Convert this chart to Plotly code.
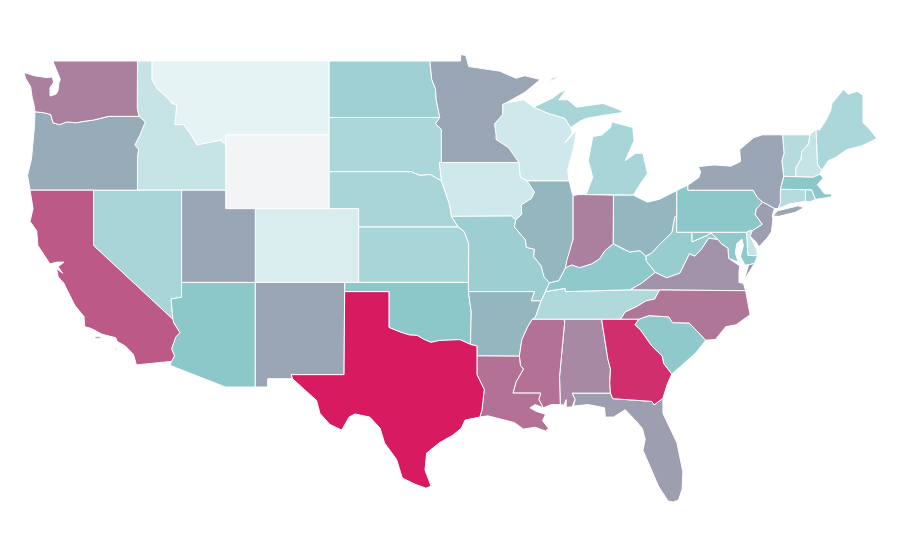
import plotly.graph_objects as go
from plotly.colors import sample_colorscale

# State values (estimated from the fill colours)
states = ["WY","MT","CO","IA","WI","ID","NH","DE","VT","CT","TN","SD","ME","MI","NE","KS","NV","RI","ND","MO","WV","KY","SC","MD","AZ","PA","OK","MA","AR","IL","OH","OR","MN","NM","UT","NY","NJ","FL","VA","AL","WA","IN","NC","MS","LA","CA","GA","TX"]
values = [0,7,13,17.5,17.5,22,22,22,30,30,32.5,34.5,34.5,36.5,36.5,36.5,36.5,40,41,42,44,48,48,48,50,50,50,50,55,55,55,58,59.5,59.5,59.5,59.5,62,62,65,68,70.5,70.5,73.5,75,75,82,94.5,100]

color_stops = [[0,"#f3f4f6"],[0.07,"#e5f3f5"],[0.5,"#8cc7ca"],[1,"#d81b60"]]

# State outlines in (lon, lat); each state is a list of rings
outlines = {
"WA":[[(-122.76,49),(-117.03,49),(-117.04,46.42),(-116.92,46.0),(-118.98,46.0),(-119.3,45.93),(-120.0,45.8),(-120.65,45.73),(-121.2,45.65),(-121.8,45.7),(-122.3,45.55),(-122.75,45.65),(-122.9,46.1),(-123.4,46.2),(-123.97,46.25),(-124.05,46.7),(-124.15,47.0),(-124.26,47.6),(-124.6,48.05),(-124.72,48.38),(-124.0,48.2),(-123.17,48.1),(-122.8,48.13),(-122.7,47.85),(-122.95,47.55),(-122.95,47.1),(-122.55,47.2),(-122.4,47.4),(-122.35,47.8),(-122.25,48.0),(-122.5,48.5)]],
"OR":[[(-124.3,42),(-120,42),(-117.03,42),(-117.03,43.8),(-116.95,44.2),(-117.2,44.45),(-116.85,45.0),(-116.5,45.7),(-116.92,46.0),(-118.98,46.0),(-119.3,45.93),(-120.0,45.8),(-120.65,45.73),(-121.2,45.65),(-121.8,45.7),(-122.3,45.55),(-122.75,45.65),(-122.9,46.1),(-123.4,46.2),(-123.97,46.25),(-124.0,45.5),(-124.1,44.5),(-124.2,43.7),(-124.47,42.8)]],
"CA":[[(-124.3,42),(-120,42),(-120,39),(-114.63,35.0),(-114.57,34.8),(-114.15,34.27),(-114.43,34.05),(-114.72,33.4),(-114.52,33.03),(-114.72,32.72),(-117.1,32.53),(-117.2,32.8),(-117.3,33.1),(-117.85,33.55),(-118.4,33.8),(-118.5,34.0),(-119.45,34.2),(-120.15,34.5),(-120.6,34.6),(-120.65,35.15),(-121.26,35.75),(-121.8,36.6),(-122.0,36.95),(-122.4,37.3),(-122.5,37.75),(-122.1,37.5),(-122.4,37.85),(-122.0,38.1),(-122.5,38.1),(-122.95,38.0),(-123.77,39.0),(-123.85,39.8),(-124.3,40.3),(-124.1,41.0)],
      [(-119.9,34.05),(-119.55,34.05),(-119.55,33.95),(-119.9,33.95)],[(-118.55,33.45),(-118.35,33.38),(-118.45,33.32)]],
"NV":[[(-120,42),(-114.04,42),(-114.04,36.2),(-114.75,36.1),(-114.63,35.0),(-120,39)]],
"ID":[[(-117.03,49),(-116.05,49),(-116.05,48),(-115.7,47.5),(-115.0,47.0),(-114.7,46.7),(-114.37,46.6),(-114.5,45.55),(-113.9,45.55),(-113.45,45.05),(-113.0,44.45),(-112.3,44.55),(-111.4,44.7),(-111.05,44.45),(-111.05,42),(-117.03,42),(-117.03,43.8),(-116.95,44.2),(-117.2,44.45),(-116.85,45.0),(-116.5,45.7),(-116.92,46.0),(-117.04,46.42)]],
"MT":[[(-116.05,49),(-104.05,49),(-104.05,45),(-111.05,45),(-111.05,44.45),(-111.4,44.7),(-112.3,44.55),(-113.0,44.45),(-113.45,45.05),(-113.9,45.55),(-114.5,45.55),(-114.37,46.6),(-114.7,46.7),(-115.0,47.0),(-115.7,47.5),(-116.05,48)]],
"WY":[[(-111.05,45),(-104.05,45),(-104.05,41),(-111.05,41)]],
"UT":[[(-114.04,42),(-111.05,42),(-111.05,41),(-109.05,41),(-109.05,37),(-114.04,37)]],
"CO":[[(-109.05,41),(-102.05,41),(-102.05,37),(-109.05,37)]],
"AZ":[[(-114.04,37),(-109.05,37),(-109.05,31.33),(-111.07,31.33),(-114.81,32.5),(-114.72,32.72),(-114.52,33.03),(-114.72,33.4),(-114.43,34.05),(-114.15,34.27),(-114.57,34.8),(-114.63,35.0),(-114.75,36.1),(-114.04,36.2)]],
"NM":[[(-109.05,37),(-103.0,37),(-103.04,32.0),(-106.62,32.0),(-106.53,31.78),(-108.21,31.78),(-108.21,31.33),(-109.05,31.33)]],
"TX":[[(-103.0,36.5),(-100.0,36.5),(-100.0,34.56),(-99.2,34.3),(-98.6,34.15),(-98.1,34.13),(-97.6,33.9),(-97.15,33.75),(-96.6,33.85),(-95.9,33.87),(-95.2,33.9),(-94.48,33.64),(-94.04,33.55),(-94.04,33.02),(-94.04,32.0),(-93.55,31.2),(-93.7,30.1),(-93.85,29.7),(-94.85,29.54),(-95.1,29.1),(-95.66,28.73),(-96.6,28.3),(-97.45,27.75),(-97.56,26.83),(-97.15,25.96),(-97.5,25.85),(-98.2,26.05),(-99.1,26.4),(-99.48,27.4),(-100.3,28.3),(-100.6,29.1),(-101.3,29.7),(-102.3,29.87),(-102.7,29.7),(-103.2,29.0),(-104.0,29.3),(-104.67,29.9),(-104.9,30.6),(-106.0,31.4),(-106.53,31.78),(-106.62,32.0),(-103.04,32.0)]],
"OK":[[(-103.0,37),(-94.62,37),(-94.62,36.5),(-94.43,35.4),(-94.48,33.64),(-95.2,33.9),(-95.9,33.87),(-96.6,33.85),(-97.15,33.75),(-97.6,33.9),(-98.1,34.13),(-98.6,34.15),(-99.2,34.3),(-100.0,34.56),(-100.0,36.5),(-103.0,36.5)]],
"KS":[[(-102.05,40),(-95.3,40),(-94.9,39.75),(-94.6,39.1),(-94.62,37),(-102.05,37)]],
"NE":[[(-104.05,43),(-98.5,43),(-97.9,42.8),(-97.2,42.85),(-96.45,42.5),(-96.1,41.7),(-95.9,41.2),(-95.77,40.58),(-95.3,40),(-102.05,40),(-102.05,41),(-104.05,41)]],
"SD":[[(-104.05,45.94),(-96.56,45.94),(-96.85,45.6),(-96.45,45.3),(-96.45,43.5),(-96.6,43.5),(-96.45,42.5),(-97.2,42.85),(-97.9,42.8),(-98.5,43),(-104.05,43)]],
"ND":[[(-104.05,49),(-97.23,49),(-97.1,48),(-96.85,47.5),(-96.8,46.9),(-96.56,45.94),(-104.05,45.94)]],
"MN":[[(-97.23,49),(-95.15,49),(-95.15,49.35),(-94.8,49.3),(-94.6,48.7),(-93.5,48.55),(-92.5,48.45),(-91.4,48.07),(-90.8,48.2),(-89.75,48.0),(-90.8,47.3),(-92.1,46.72),(-92.3,46.66),(-92.3,46.1),(-92.85,45.6),(-92.75,45.0),(-92.75,44.75),(-91.9,44.3),(-91.2,43.5),(-96.45,43.5),(-96.45,45.3),(-96.85,45.6),(-96.56,45.94),(-96.8,46.9),(-96.85,47.5),(-97.1,48)]],
"IA":[[(-96.6,43.5),(-91.2,43.5),(-91.1,42.7),(-90.65,42.5),(-90.15,41.9),(-90.35,41.55),(-91.05,41.2),(-91.0,40.7),(-91.42,40.38),(-91.7,40.6),(-95.77,40.58),(-95.9,41.2),(-96.1,41.7),(-96.45,42.5)]],
"MO":[[(-95.77,40.58),(-91.7,40.6),(-91.42,40.38),(-91.5,40.0),(-90.75,39.3),(-90.7,38.9),(-90.15,38.8),(-90.2,38.4),(-89.7,37.9),(-89.5,37.3),(-89.13,36.98),(-89.4,36.5),(-89.7,36.0),(-90.37,36.0),(-90.15,36.5),(-94.62,36.5),(-94.62,37),(-94.6,39.1),(-94.9,39.75),(-95.3,40)]],
"AR":[[(-94.62,36.5),(-90.15,36.5),(-90.37,36.0),(-89.7,36.0),(-90.1,35.1),(-90.3,35.0),(-90.6,34.6),(-91.0,33.9),(-91.17,33.0),(-94.04,33.02),(-94.04,33.55),(-94.48,33.64),(-94.43,35.4)]],
"LA":[[(-94.04,33.02),(-91.17,33.0),(-91.1,32.5),(-90.9,32.3),(-91.4,31.6),(-91.6,31.0),(-89.73,31.0),(-89.85,30.65),(-89.55,30.2),(-90.1,30.38),(-90.45,30.2),(-90.0,30.0),(-89.4,29.85),(-89.6,29.5),(-89.2,29.1),(-89.4,28.95),(-90.1,29.15),(-90.9,29.05),(-91.5,29.4),(-92.2,29.55),(-93.3,29.77),(-93.85,29.7),(-93.7,30.1),(-93.55,31.2),(-94.04,32.0)]],
"MS":[[(-90.3,35.0),(-88.2,35.0),(-88.1,34.9),(-88.45,31.9),(-88.4,30.37),(-89.0,30.38),(-89.55,30.2),(-89.85,30.65),(-89.73,31.0),(-91.6,31.0),(-91.4,31.6),(-90.9,32.3),(-91.1,32.5),(-91.17,33.0),(-91.0,33.9),(-90.6,34.6)]],
"AL":[[(-88.2,35),(-85.6,35),(-85.18,32.85),(-85.0,32.3),(-85.05,31.55),(-85.0,31.0),(-87.6,31.0),(-87.4,30.65),(-87.6,30.25),(-88.0,30.23),(-88.0,30.65),(-88.15,30.35),(-88.4,30.37),(-88.45,31.9),(-88.1,34.9)]],
"GA":[[(-85.6,35),(-83.1,35),(-83.35,34.7),(-83.0,34.45),(-82.2,33.55),(-81.5,33.0),(-81.4,32.6),(-80.85,32.03),(-81.15,31.5),(-81.45,30.72),(-82.05,30.36),(-82.2,30.55),(-84.85,30.7),(-85.0,31.0),(-85.05,31.55),(-85.0,32.3),(-85.18,32.85)]],
"FL":[[(-87.6,31.0),(-85.0,31.0),(-84.85,30.7),(-82.2,30.55),(-82.05,30.36),(-81.45,30.72),(-81.45,29.9),(-80.9,29.0),(-80.5,28.3),(-80.1,26.74),(-80.15,25.8),(-80.4,25.2),(-80.76,25.1),(-81.1,25.15),(-81.75,25.95),(-82.15,26.7),(-82.8,27.9),(-82.65,28.5),(-82.85,29.1),(-83.35,29.55),(-84.0,30.1),(-84.8,29.7),(-85.35,29.7),(-85.4,30.2),(-86.5,30.38),(-87.5,30.3),(-87.4,30.65)]],
"SC":[[(-83.35,34.7),(-83.1,35),(-82.4,35.2),(-81.05,35.13),(-80.8,34.82),(-79.67,34.8),(-78.55,33.87),(-79.2,33.2),(-79.9,32.7),(-80.85,32.03),(-81.4,32.6),(-81.5,33.0),(-82.2,33.55),(-83.0,34.45)]],
"NC":[[(-84.32,35.0),(-83.1,35),(-82.4,35.2),(-81.05,35.13),(-80.8,34.82),(-79.67,34.8),(-78.55,33.87),(-77.9,33.9),(-77.2,34.6),(-76.5,34.7),(-75.55,35.25),(-75.85,36.55),(-81.68,36.59),(-82.0,36.1),(-82.6,36.0),(-83.2,35.7),(-84.0,35.4)]],
"TN":[[(-90.3,35.0),(-88.2,35),(-84.32,35.0),(-84.0,35.4),(-83.2,35.7),(-82.6,36.0),(-82.0,36.1),(-81.68,36.59),(-83.67,36.6),(-88.05,36.5),(-88.07,36.68),(-89.4,36.5),(-89.7,36.0),(-90.1,35.1)]],
"KY":[[(-89.4,36.5),(-88.07,36.68),(-88.05,36.5),(-83.67,36.6),(-82.9,36.95),(-81.97,37.54),(-82.6,38.17),(-82.6,38.42),(-83.0,38.72),(-83.7,38.65),(-84.25,38.85),(-84.82,39.1),(-85.4,38.7),(-85.75,38.27),(-86.3,38.0),(-87.1,37.8),(-87.6,37.95),(-88.05,37.8),(-88.5,37.1),(-89.13,36.98)]],
"VA":[[(-83.67,36.6),(-81.68,36.59),(-75.85,36.55),(-76.0,36.95),(-76.3,37.0),(-76.3,37.55),(-76.25,37.9),(-77.0,38.3),(-77.05,38.85),(-77.5,39.1),(-77.72,39.32),(-78.35,39.4),(-78.87,38.77),(-79.3,38.42),(-79.65,38.55),(-80.3,37.5),(-81.2,37.25),(-81.97,37.54),(-82.9,36.95)],
      [(-75.95,37.15),(-75.65,37.95),(-75.25,38.03),(-75.6,37.6)]],
"WV":[[(-81.97,37.54),(-81.2,37.25),(-80.3,37.5),(-79.65,38.55),(-79.3,38.42),(-78.87,38.77),(-78.35,39.4),(-77.72,39.32),(-78.2,39.68),(-78.45,39.55),(-79.48,39.2),(-79.48,39.72),(-80.52,39.72),(-80.52,40.64),(-80.65,40.55),(-80.85,39.7),(-81.75,39.0),(-82.2,38.6),(-82.6,38.42),(-82.6,38.17)]],
"MD":[[(-79.48,39.72),(-75.79,39.72),(-75.7,38.46),(-75.05,38.45),(-75.25,38.03),(-75.65,37.95),(-75.9,37.95),(-76.2,38.4),(-76.0,39.0),(-76.1,39.35),(-76.45,39.1),(-76.55,38.6),(-76.35,38.1),(-77.0,38.3),(-77.05,38.85),(-77.5,39.1),(-77.72,39.32),(-78.2,39.68),(-78.45,39.55),(-79.48,39.2)]],
"DE":[[(-75.79,39.72),(-75.5,39.83),(-75.4,39.8),(-75.55,39.5),(-75.1,38.8),(-75.05,38.45),(-75.7,38.46)]],
"PA":[[(-80.52,41.98),(-79.76,42.27),(-79.76,42.0),(-75.35,42.0),(-75.05,41.6),(-74.7,41.36),(-75.13,40.97),(-75.2,40.68),(-74.72,40.15),(-75.4,39.8),(-75.5,39.83),(-75.79,39.72),(-80.52,39.72)]],
"NJ":[[(-74.7,41.36),(-73.9,41.0),(-74.05,40.6),(-74.0,40.45),(-74.1,39.75),(-74.4,39.4),(-74.95,38.93),(-75.15,39.2),(-75.55,39.5),(-75.4,39.8),(-74.72,40.15),(-75.2,40.68),(-75.13,40.97)]],
"NY":[[(-79.76,42.27),(-79.0,42.7),(-78.9,43.0),(-79.05,43.27),(-78.0,43.37),(-76.85,43.3),(-76.2,43.55),(-76.25,44.2),(-75.3,44.85),(-74.7,45.0),(-73.35,45.0),(-73.25,44.0),(-73.4,43.6),(-73.27,42.75),(-73.5,42.05),(-73.5,41.3),(-73.65,41.0),(-73.9,41.0),(-74.7,41.36),(-75.05,41.6),(-75.35,42.0),(-79.76,42.0)],
      [(-74.0,40.6),(-73.7,40.88),(-72.3,41.15),(-71.9,41.05),(-72.5,40.8),(-73.6,40.58)]],
"VT":[[(-73.35,45.0),(-71.5,45.0),(-71.6,44.5),(-72.05,44.1),(-72.1,43.7),(-72.45,43.2),(-72.46,42.73),(-73.27,42.75),(-73.4,43.6),(-73.25,44.0)]],
"NH":[[(-71.5,45.0),(-71.08,45.3),(-70.98,43.4),(-70.7,43.07),(-70.82,42.87),(-71.3,42.7),(-72.46,42.73),(-72.45,43.2),(-72.1,43.7),(-72.05,44.1),(-71.6,44.5)]],
"ME":[[(-71.08,45.3),(-70.85,45.25),(-70.4,45.8),(-70.1,46.3),(-70.0,46.7),(-69.23,47.46),(-68.9,47.2),(-68.3,47.36),(-67.9,47.15),(-67.9,45.65),(-67.45,45.3),(-66.97,44.8),(-68.0,44.4),(-69.0,44.2),(-69.8,43.75),(-70.25,43.6),(-70.7,43.07),(-70.98,43.4)]],
"MA":[[(-73.5,42.05),(-73.27,42.75),(-72.46,42.73),(-71.3,42.7),(-70.82,42.87),(-70.6,42.65),(-71.0,42.3),(-70.65,41.95),(-70.5,41.8),(-70.05,41.8),(-70.0,41.65),(-70.65,41.55),(-71.12,41.5),(-71.38,42.02),(-71.8,42.02)]],
"CT":[[(-73.5,42.05),(-71.8,42.02),(-71.8,41.4),(-72.9,41.25),(-73.65,41.0),(-73.5,41.3)]],
"RI":[[(-71.8,42.02),(-71.38,42.02),(-71.12,41.5),(-71.5,41.37),(-71.8,41.4)]],
"OH":[[(-84.8,41.73),(-83.45,41.73),(-82.5,41.35),(-81.7,41.5),(-80.52,41.98),(-80.52,40.64),(-80.65,40.55),(-80.85,39.7),(-81.75,39.0),(-82.2,38.6),(-82.6,38.42),(-83.0,38.72),(-83.7,38.65),(-84.25,38.85),(-84.82,39.1)]],
"IN":[[(-87.53,41.7),(-87.2,41.76),(-86.82,41.76),(-84.8,41.73),(-84.82,39.1),(-85.4,38.7),(-85.75,38.27),(-86.3,38.0),(-87.1,37.8),(-87.6,37.95),(-88.05,37.8),(-87.95,38.2),(-87.53,39.35)]],
"IL":[[(-90.65,42.5),(-87.8,42.5),(-87.6,41.85),(-87.53,41.7),(-87.53,39.35),(-87.95,38.2),(-88.05,37.8),(-88.5,37.1),(-89.13,36.98),(-89.5,37.3),(-89.7,37.9),(-90.2,38.4),(-90.15,38.8),(-90.7,38.9),(-90.75,39.3),(-91.5,40.0),(-91.42,40.38),(-91.0,40.7),(-91.05,41.2),(-90.35,41.55),(-90.15,41.9)]],
"WI":[[(-92.3,46.66),(-92.1,46.72),(-90.9,46.9),(-90.2,46.5),(-89.1,46.13),(-88.1,45.9),(-87.7,45.4),(-87.6,45.1),(-88.1,44.55),(-87.3,45.25),(-87.5,44.3),(-87.9,43.1),(-87.8,42.5),(-90.65,42.5),(-91.1,42.7),(-91.2,43.5),(-91.9,44.3),(-92.75,44.75),(-92.75,45.0),(-92.85,45.6),(-92.3,46.1)]],
"MI":[[(-86.82,41.76),(-84.8,41.73),(-83.45,41.73),(-83.1,42.2),(-82.5,42.9),(-82.8,44.0),(-83.3,44.0),(-84.0,43.6),(-83.4,44.7),(-83.5,45.4),(-84.92,45.7),(-85.0,45.4),(-85.55,45.0),(-86.2,44.9),(-86.5,43.6),(-86.2,42.7),(-86.6,41.85)],
      [(-90.2,46.5),(-89.1,46.13),(-88.1,45.9),(-87.7,45.4),(-87.05,45.75),(-86.6,45.9),(-85.5,46.05),(-84.25,46.2),(-84.2,46.3),(-85.5,46.7),(-87.3,46.5),(-87.9,46.9),(-88.5,46.9),(-88.0,47.43),(-88.4,47.3),(-88.9,47.0)],
      [(-89.2,47.85),(-88.5,48.15),(-88.9,48.1)]],
}

colors = sample_colorscale(color_stops, [v / 100 for v in values])

fig = go.Figure()
for state, value, color in zip(states, values, colors):
    xs, ys = [], []
    for ring in outlines[state]:
        xs += [p[0] for p in ring] + [ring[0][0], None]
        ys += [p[1] for p in ring] + [ring[0][1], None]
    fig.add_trace(go.Scatter(
        x=xs, y=ys, mode="lines", fill="toself", fillcolor=color,
        line=dict(color="white", width=1), name=state, hoveron="fills",
        text=f"{state}: {value}", hoverinfo="text", showlegend=False,
    ))

fig.update_layout(
    width=884, height=544, margin=dict(l=0, r=0, t=0, b=0),
    paper_bgcolor="white", plot_bgcolor="white",
    xaxis=dict(visible=False, range=[-125.794, -65.94]),
    yaxis=dict(visible=False, range=[22.388, 51.873]),
)
fig.write_html("out.html")
